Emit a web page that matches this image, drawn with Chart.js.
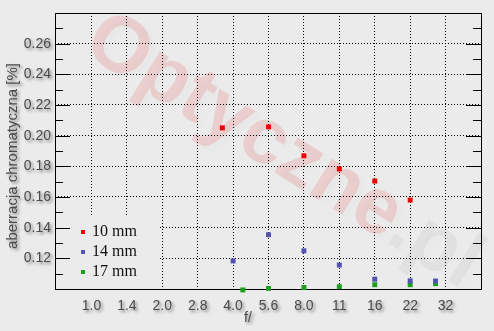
<!DOCTYPE html>
<html><head><meta charset="utf-8">
<script src="https://cdn.jsdelivr.net/npm/chart.js@4/dist/chart.umd.min.js"></script>
<style>html,body{margin:0;padding:0;background:#ebebeb;}canvas{display:block;}</style>
</head><body>
<canvas id="c" width="494" height="331"></canvas>
<script>
// ---- data ----
const xLabels = ['1.0','1.4','2.0','2.8','4.0','5.6','8.0','11','16','22','32'];
const xStops = [1, 1.4142, 2, 2.8284, 4, 5.6569, 8, 11.314, 16, 22.627, 32];
const seriesNames = ['10 mm','14 mm','17 mm'];
const f10 = [3.6, 5.6569, 8, 11.314, 16, 22.627];
const ca10 = [0.2051, 0.2057, 0.1869, 0.1783, 0.1704, 0.1580];
const f14 = [4, 5.6569, 8, 11.314, 16, 22.627, 29];
const ca14 = [0.1183, 0.1354, 0.1249, 0.1156, 0.1064, 0.1053, 0.1052];
const f17 = [4.4, 5.6569, 8, 11.314, 16, 22.627, 29];
const ca17 = [0.0994, 0.1004, 0.1010, 0.1015, 0.1028, 0.1028, 0.1035];
const colors = ['#ee0000', '#5252b0', '#1e9e1e'];
const yTitle = 'aberracja chromatyczna [%]';
const xTitle = 'f/';

const SANS = '"Liberation Sans", Arial, sans-serif';
const SERIF = '"Liberation Serif", "Times New Roman", serif';
const BG = '#ebebeb';

function pts(fs, vs){ return fs.map((f,i)=>({x:f, y:vs[i]})); }

const deco = {
  id: 'deco',
  beforeDraw(chart){
    const ctx = chart.ctx;
    ctx.save();
    ctx.fillStyle = BG;
    ctx.fillRect(0,0,chart.width,chart.height);
    // watermark
    ctx.translate(283,152);
    ctx.rotate(32*Math.PI/180);
    ctx.font = 'bold 80px ' + SANS;
    const t1 = 'Optyczne', t2 = '.pl';
    const w1 = ctx.measureText(t1).width, w2 = ctx.measureText(t2).width;
    const s = 450/(w1+w2);
    ctx.scale(s,s);
    ctx.textBaseline = 'middle';
    ctx.textAlign = 'left';
    const x0 = -(w1+w2)/2;
    ctx.shadowColor = 'rgba(0,0,0,0.10)';
    ctx.shadowBlur = 6; ctx.shadowOffsetX = 5; ctx.shadowOffsetY = 5;
    ctx.fillStyle = 'rgba(235,40,40,0.15)';
    ctx.fillText(t1, x0, 0);
    ctx.fillStyle = 'rgba(110,110,110,0.08)';
    ctx.fillText(t2, x0+w1, 0);
    ctx.restore();
  },
  beforeDatasetsDraw(chart){
    const ctx = chart.ctx, a = chart.chartArea, y = chart.scales.y;
    ctx.save();
    // legend box
    ctx.fillStyle = BG;
    ctx.fillRect(a.left+1, 215, 104, a.bottom-215);
    // tick marks (inside, both sides)
    ctx.strokeStyle = '#000'; ctx.lineWidth = 1;
    ctx.beginPath();
    for (let k=11; k<=27; k++){
      const py = Math.round(y.getPixelForValue(k/100)) + 0.5;
      const len = (k%2===0) ? 15 : 8;
      ctx.moveTo(a.left, py); ctx.lineTo(a.left+len, py);
      ctx.moveTo(a.right-len, py); ctx.lineTo(a.right, py);
    }
    ctx.stroke();
    // frame
    ctx.strokeRect(a.left+0.5, a.top+0.5, a.right-a.left, a.bottom-a.top);
    // legend entries
    ctx.font = '16px ' + SERIF;
    ctx.textBaseline = 'middle';
    ctx.textAlign = 'left';
    chart.data.datasets.forEach((d,i)=>{
      const cy = 232 + i*20;
      ctx.fillStyle = d.backgroundColor;
      ctx.fillRect(81, cy-2, 4, 4);
      ctx.fillStyle = '#111';
      ctx.fillText(d.label, 92, cy);
    });
    ctx.restore();
  },
  afterDatasetsDraw(chart){
    const ctx = chart.ctx;
    ctx.save();
    ctx.shadowColor = 'rgba(0,0,0,0.45)';
    ctx.shadowBlur = 3; ctx.shadowOffsetX = 2; ctx.shadowOffsetY = 2;
  },
  afterDraw(chart){
    const ctx = chart.ctx;
    ctx.fillStyle = '#4a4a4a';
    ctx.textAlign = 'center';
    ctx.textBaseline = 'middle';
    ctx.font = '15px ' + SANS;
    ctx.save();
    ctx.translate(12.5, 156);
    ctx.rotate(-Math.PI/2);
    ctx.fillText(yTitle, 0, 0);
    ctx.restore();
    ctx.font = '14px ' + SANS;
    ctx.fillText(xTitle, 248, 318);
    ctx.restore();
  }
};

new Chart(document.getElementById('c'), {
  type: 'scatter',
  data: {
    datasets: [
      {label: seriesNames[0], data: pts(f10, ca10), backgroundColor: colors[0]},
      {label: seriesNames[1], data: pts(f14, ca14), backgroundColor: colors[1]},
      {label: seriesNames[2], data: pts(f17, ca17), backgroundColor: colors[2]}
    ].map(d=>Object.assign(d, {pointStyle:'rect', pointRadius:3.5, pointHoverRadius:3.5, borderWidth:0, clip:false}))
  },
  options: {
    responsive: false,
    devicePixelRatio: 1,
    animation: false,
    events: [],
    layout: {padding: {left:0, top:13, right:13, bottom:0}},
    plugins: {legend: {display:false}, tooltip: {enabled:false}},
    scales: {
      x: {
        type: 'logarithmic',
        min: 1/Math.SQRT2, max: 32*Math.SQRT2,
        afterBuildTicks: s => { s.ticks = xStops.map(v=>({value:v})); },
        afterFit: s => { s.height = 42; },
        grid: {color:'#000', lineWidth:1, drawTicks:false, z:-1},
        border: {display:false, dash:[1,2]},
        ticks: {z:1, autoSkip:false, maxRotation:0, minRotation:0, padding:9, color:'#4a4a4a',
                font:{family:SANS, size:14}, callback:(v,i)=>xLabels[i]}
      },
      y: {
        min: 0.10, max: 0.28,
        afterFit: s => { s.width = 55; },
        grid: {color:'#000', lineWidth:1, drawTicks:false, z:-1},
        border: {display:false, dash:[1,2]},
        ticks: {z:1, stepSize:0.02, padding:4, color:'#4a4a4a', font:{family:SANS, size:14},
                callback:(v,i,t)=> (i===0 || i===t.length-1) ? '' : Number(v).toFixed(2)}
      }
    }
  },
  plugins: [deco]
});
</script>
</body></html>
